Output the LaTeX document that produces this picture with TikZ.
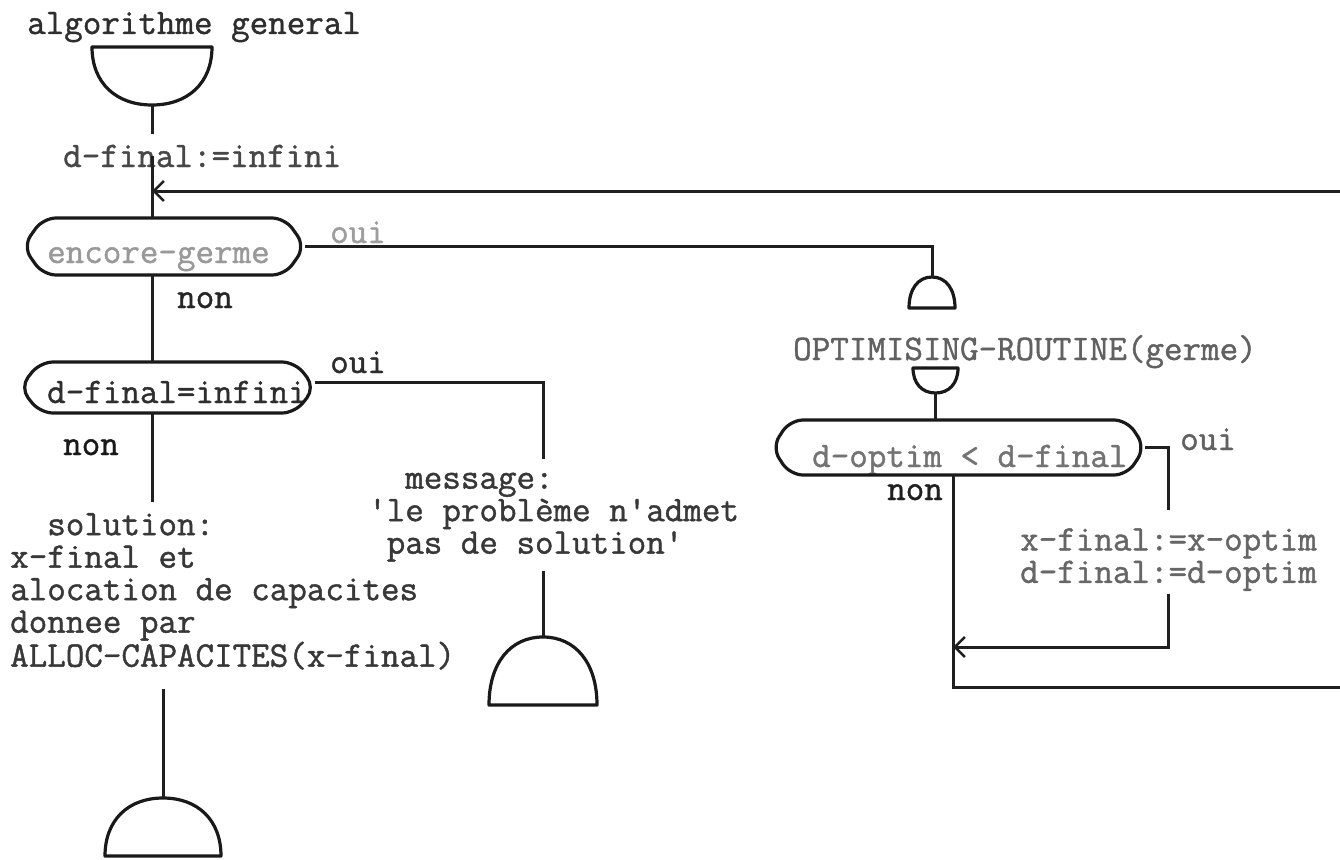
\documentclass[tikz,border=0pt]{standalone}
\usepackage{fontspec}
\newfontfamily\twfont[FakeBold=1.2]{Latin Modern Mono}
\usetikzlibrary{calc,arrows.meta}
\newcommand\mydome[1]{% flat bottom, round top
  \draw[shp] (#1.south west) .. controls ($(#1.south west)!0.62!(#1.north west)$) and ($(#1.north)!0.6!(#1.north west)$) .. (#1.north)
    .. controls ($(#1.north)!0.6!(#1.north east)$) and ($(#1.south east)!0.62!(#1.north east)$) .. (#1.south east) -- cycle;}
\newcommand\mycup[1]{% flat top, round bottom
  \draw[shp] (#1.north west) .. controls ($(#1.north west)!0.62!(#1.south west)$) and ($(#1.south)!0.6!(#1.south west)$) .. (#1.south)
    .. controls ($(#1.south)!0.6!(#1.south east)$) and ($(#1.north east)!0.62!(#1.south east)$) .. (#1.north east) -- cycle;}
\newcommand\mydec[2]{% decision box with rounded pointed ends
  \draw[shp, rounded corners=13pt] (#1.north) -- ([xshift=-#2]#1.north east) -- (#1.east) -- ([xshift=-#2]#1.south east)
    -- ([xshift=#2]#1.south west) -- (#1.west) -- ([xshift=#2]#1.north west) -- cycle;}
\begin{document}
\begin{tikzpicture}[x=1pt,y=-1pt,
  tw/.style={font=\fontsize{36}{32.5}\selectfont\twfont, inner sep=3pt, anchor=base west},
  conn/.style={line width=3pt, draw=black!88},
  shp/.style={line width=3.2pt, draw=black!90, line join=round},
  holder/.style={inner sep=0pt, outer sep=0pt},
  backarrow/.style={-{Straight Barb[length=10pt,width=20pt,line width=2.6pt]}}
]
\useasboundingbox (0,0) rectangle (1340,859);
\clip (0,0) rectangle (1340,859);

% texts
\node[tw, black!82] (title) at (24,34) {algorithme general};
\node[tw, black!72] (init) at (60,167) {d-final:=infini};
\node[tw, black!40] (g1t) at (44,263) {encore-germe};
\node[tw, black!38] (oui1) at (327,243) {oui};
\node[tw, black!85] (non1) at (174,308) {non};
\node[tw, black!82] (g2t) at (44,403) {d-final=infini};
\node[tw, black!82] (oui2) at (327,373) {oui};
\node[tw, black!90] (non2) at (60,455) {non};
\node[tw, anchor=north west, align=left, black!78] (sol) at (7,510)
  {\hphantom{xx}solution:\\x-final et\\alocation de capacites\\donnee par\\ALLOC-CAPACITES(x-final)};
\node[tw, anchor=north west, align=left, black!78] (msg) at (365,469.5)
  {\hphantom{xx}message:\\'le problème n'admet\\\hphantom{x}pas de solution'};
\node[tw, black!62] (opt) at (790,360) {OPTIMISING-ROUTINE(germe)};
\node[tw, black!55] (g3t) at (809,467) {d-optim < d-final};
\node[tw, black!62] (oui3) at (1177,450) {oui};
\node[tw, black!88] (non3) at (884,500) {non};
\node[tw, anchor=north west, align=left, black!60] (asg) at (1017,525)
  {x-final:=x-optim\\d-final:=d-optim};

% shapes
\node[holder, minimum width=120pt, minimum height=58pt] (s0) at (152,76) {};
\node[holder, minimum width=282pt, minimum height=57pt] (g1) at (164,246.5) {};
\node[holder, minimum width=295pt, minimum height=51pt] (g2) at (167.5,387.5) {};
\node[holder, minimum width=46pt, minimum height=31pt] (c1) at (932,292.5) {};
\node[holder, minimum width=45pt, minimum height=25pt] (c2) at (935.5,380.5) {};
\node[holder, minimum width=373pt, minimum height=55pt] (g3) at (958.5,447.5) {};
\node[holder, minimum width=108pt, minimum height=68pt] (t2) at (543,671) {};
\node[holder, minimum width=116pt, minimum height=58pt] (t1) at (163,827) {};

\mycup{s0}
\mydec{g1}{20pt}
\mydec{g2}{20pt}
\mydome{c1}
\mycup{c2}
\mydec{g3}{18pt}
\mydome{t2}
\mydome{t1}

% connector points
\coordinate (m1) at (152,191);
\coordinate (m2) at (953,647);
\coordinate (lb) at (953,687);
\coordinate (rb) at (1346,687);
\coordinate (rt) at (1346,191);

% connectors
\draw[conn] (s0.south) -- ([yshift=8pt]s0.south |- init.north);
\draw[conn] (s0.south |- init.center) -- (s0.south |- g1.north);
\draw[conn] (g1.east) -| (c1.north);
\draw[conn] (s0.south |- g1.south) -- (s0.south |- g2.north);
\draw[conn] ([yshift=5pt]g2.east) -| ([yshift=11pt]t2.north |- msg.north);
\draw[conn] ([yshift=-6pt]t2.north |- msg.south) -- (t2.north);
\draw[conn] (s0.south |- g2.south) -- ([yshift=8pt]s0.south |- sol.north);
\draw[conn] ([yshift=-16pt]t1.north |- sol.south) -- (t1.north);
\draw[conn] (c2.south) -- (c2.south |- g3.north);
\draw[conn] (g3.east) -| ([yshift=15pt]asg.north);
\draw[conn, backarrow] (asg.south) |- (m2);
\draw[conn, backarrow] (g3.south -| lb) -- (lb) -- (rb) -- (rt) -- (m1);
\end{tikzpicture}
\end{document}
